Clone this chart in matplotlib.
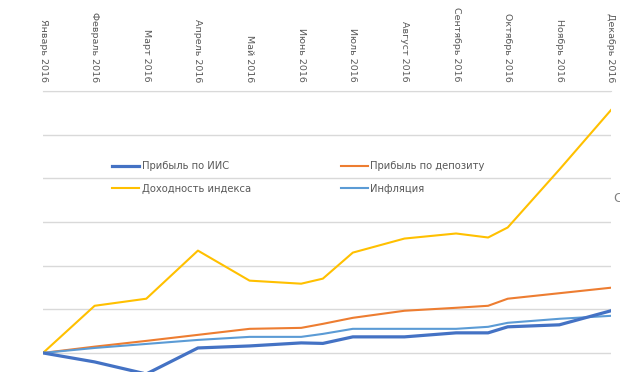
import matplotlib.pyplot as plt

# month positions (0 = January); some series have extra points mid-month
x_pos = [0, 1, 2, 3, 4, 5, 5.42, 6, 7, 8, 8.62, 9, 10, 11]
months = ["Январь 2016", "Февраль 2016", "Март 2016", "Апрель 2016", "Май 2016",
          "Июнь 2016", "Июль 2016", "Август 2016", "Сентябрь 2016",
          "Октябрь 2016", "Ноябрь 2016", "Декабрь 2016"]

iis = [0, -1.03, -2.41, 0.57, 0.80, 1.15, 1.09, 1.84, 1.84, 2.30, 2.30, 2.99, 3.22, 4.83]
deposit = [0, 0.72, 1.38, 2.07, 2.76, 2.87, 3.33, 4.02, 4.83, 5.17, 5.40, 6.21, 6.84, 7.47]
index_ret = [0, 5.40, 6.21, 11.72, 8.28, 7.93, 8.51, 11.49, 13.10, 13.68, 13.22, 14.37, 21.0, 27.82]
inflation = [0, 0.57, 1.03, 1.49, 1.84, 1.84, 2.18, 2.76, 2.76, 2.76, 2.99, 3.45, 3.91, 4.25]

W, H = 620, 372
fig = plt.figure(figsize=(W / 100, H / 100), dpi=100)
left, right, top = 43, 611, 91
ax = fig.add_axes([left / W, 0, (right - left) / W, 1 - top / H])

l_iis, = ax.plot(x_pos, iis, color="#4472C4", lw=2.3, label="Прибыль по ИИС", zorder=5)
l_dep, = ax.plot(x_pos, deposit, color="#ED7D31", lw=1.5, label="Прибыль по депозиту", zorder=4)
l_idx, = ax.plot(x_pos, index_ret, color="#FFC000", lw=1.5, label="Доходность индекса", zorder=4)
l_inf, = ax.plot(x_pos, inflation, color="#5B9BD5", lw=1.5, label="Инфляция", zorder=4)

ax.set_xlim(0, 11)
ax.set_ylim(-2.184, 30)
ax.set_yticks(range(0, 31, 5))
ax.yaxis.grid(True, color="#d9d9d9", lw=1)
ax.set_axisbelow(True)
ax.tick_params(axis="y", left=False, labelleft=False)

ax.xaxis.tick_top()
ax.set_xticks(range(12))
ax.set_xticklabels(months, rotation=270, ha="center", va="bottom",
                   fontsize=6.8, color="#595959")
ax.tick_params(axis="x", top=False, pad=3)

for s in ["left", "right", "bottom"]:
    ax.spines[s].set_visible(False)
ax.spines["top"].set_color("#d9d9d9")

# legend: filled column-wise, so order gives rows (ИИС, депозит), (индекс, инфляция)
handles = [l_iis, l_idx, l_dep, l_inf]
leg = ax.legend(handles=handles, labels=[h.get_label() for h in handles],
                loc="upper left",
                bbox_to_anchor=((112 - left) / (right - left), (H - 161) / (H - top)),
                ncol=2, frameon=False, fontsize=7.2, borderpad=0, borderaxespad=0,
                handlelength=2.7, handletextpad=0.25, columnspacing=9.0,
                labelspacing=1.25)
for t in leg.get_texts():
    t.set_color("#595959")

fig.text(613 / W, 1 - 198 / H, "С", fontsize=9, color="#808080", va="center")

fig.savefig("out.png", dpi=100, facecolor="white")
